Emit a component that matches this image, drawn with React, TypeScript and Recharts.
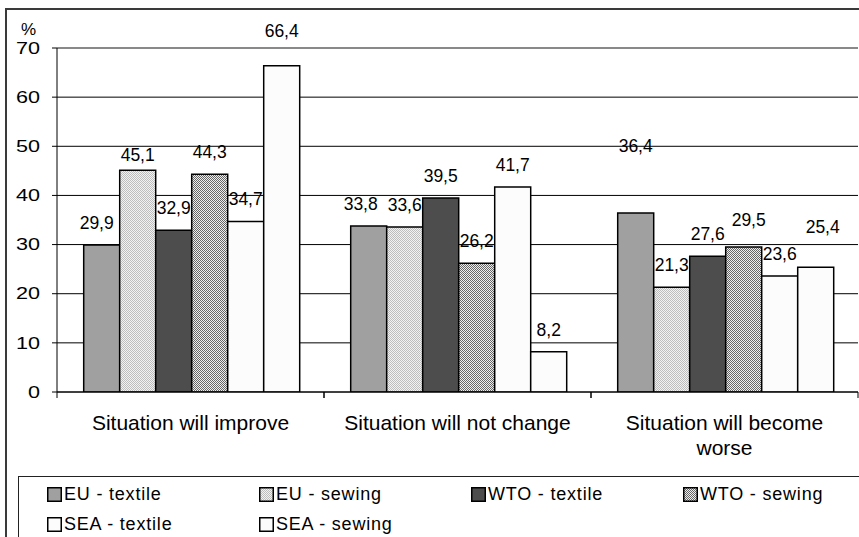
import { BarChart, Bar, XAxis, YAxis, CartesianGrid, ReferenceLine, LabelList, Legend } from 'recharts';

const categories = ['Situation will improve', 'Situation will not change', 'Situation will become worse'];

const euTextile = [29.9, 33.8, 36.4];
const euSewing = [45.1, 33.6, 21.3];
const wtoTextile = [32.9, 39.5, 27.6];
const wtoSewing = [44.3, 26.2, 29.5];
const seaTextile = [34.7, 41.7, 23.6];
const seaSewing = [66.4, 8.2, 25.4];

const yTicks = [0, 10, 20, 30, 40, 50, 60, 70];

const series = [
    { key: 'euTextile', name: 'EU - textile', values: euTextile },
    { key: 'euSewing', name: 'EU - sewing', values: euSewing },
    { key: 'wtoTextile', name: 'WTO - textile', values: wtoTextile },
    { key: 'wtoSewing', name: 'WTO - sewing', values: wtoSewing },
    { key: 'seaTextile', name: 'SEA - textile', values: seaTextile },
    { key: 'seaSewing', name: 'SEA - sewing', values: seaSewing },
];

const fills: Record<string, string> = {
    euTextile: '#a0a0a0',
    euSewing: 'url(#pat-eu-sewing)',
    wtoTextile: '#4d4d4d',
    wtoSewing: 'url(#pat-wto-sewing)',
    seaTextile: '#fcfcfc',
    seaSewing: '#fcfcfc',
};

// labels that were dragged around in the original
const labelNudge: Record<string, { dx?: number; lift?: number }> = {
    'euTextile-0': { dx: -5 },
    'euTextile-1': { dx: -8 },
    'euTextile-2': { lift: 45 },
    'euSewing-0': { lift: -7 },
    'seaSewing-0': { lift: 13 },
    'wtoSewing-2': { dx: 5, lift: 5 },
    'seaSewing-2': { dx: 7, lift: 18 },
};

const data = categories.map((name, i) => {
    const row: Record<string, string | number> = { name };
    series.forEach(s => { row[s.key] = s.values[i]; });
    return row;
});

const FONT = '"Liberation Sans", Arial, sans-serif';
const fmt = (v: number) => v.toFixed(1).replace('.', ',');

const X_TICK_SIZE = 6;
const X_TICK_MARGIN = 17;

// excel wrapped the long category name; do the same by character count
const wrap = (s: string, max: number) => {
    const lines: string[] = [];
    let cur = '';
    s.split(' ').forEach(w => {
        const next = cur ? cur + ' ' + w : w;
        if (next.length > max && cur) {
            lines.push(cur);
            cur = w;
        } else {
            cur = next;
        }
    });
    if (cur) lines.push(cur);
    return lines;
};

const makeLabel = (key: string) => (props: any) => {
    const { x, y, width, value, index } = props;
    const n = labelNudge[`${key}-${index}`] || {};
    return (
        <text
            x={Number(x) + Number(width) / 2 + (n.dx || 0)}
            y={Number(y) - 16 - (n.lift || 0)}
            textAnchor="middle"
            fontSize={17.5}
            fontFamily={FONT}
            fill="#000"
        >
            {fmt(Number(value))}
        </text>
    );
};

const YTick = (props: any) => {
    const { x, y, payload } = props;
    return (
        <text
            transform={`translate(${x},${y}) scale(1.35,1)`}
            textAnchor="end"
            dy="0.36em"
            fontSize={16}
            fontFamily={FONT}
            fill="#000"
        >
            {payload.value}
        </text>
    );
};

const CatTick = (props: any) => {
    const { x, y, payload } = props;
    const half = Number(payload.offset) || 0;
    const axisY = y - X_TICK_SIZE - X_TICK_MARGIN;
    const lines = wrap(String(payload.value), 25);
    return (
        <g>
            {half > 0 && (
                <>
                    <line x1={x - half} x2={x - half} y1={axisY} y2={axisY + X_TICK_SIZE} stroke="#000" />
                    <line x1={x + half} x2={x + half} y1={axisY} y2={axisY + X_TICK_SIZE} stroke="#000" />
                </>
            )}
            <text x={x} y={y} textAnchor="middle" fontSize={21} fontFamily={FONT} fill="#000">
                {lines.map((l, i) => (
                    <tspan key={i} x={x} dy={i === 0 ? '0.71em' : 25}>{l}</tspan>
                ))}
            </text>
        </g>
    );
};

const renderLegend = () => (
    <div
        style={{
            boxSizing: 'border-box',
            width: 900,
            height: 100,
            border: '1px solid #222',
            paddingLeft: 28,
            paddingTop: 2,
            display: 'grid',
            gridTemplateColumns: 'repeat(4, 212px)',
            gridAutoRows: '30px',
            fontFamily: FONT,
        }}
    >
        {series.map(s => (
            <div key={s.key} style={{ display: 'flex', alignItems: 'center' }}>
                <svg width={15} height={15} style={{ display: 'block' }}>
                    <rect x={0.75} y={0.75} width={13.5} height={13.5} fill={fills[s.key]} stroke="#000" strokeWidth={1.5} />
                </svg>
                <span style={{ marginLeft: 2, fontSize: 18, letterSpacing: 0.8, color: '#000' }}>{s.name}</span>
            </div>
        ))}
    </div>
);

export default function App() {
    return (
        <div style={{ position: 'fixed', left: 0, top: 0, width: 859, height: 537, overflow: 'hidden', background: '#fff' }}>
            <div style={{ position: 'absolute', left: 5, top: 8, width: 900, height: 600, borderTop: '2px solid #3a3a3a', borderLeft: '2px solid #3a3a3a' }} />
            <div style={{ position: 'absolute', left: 0, top: 0 }}>
                <BarChart
                    width={859}
                    height={537}
                    data={data}
                    margin={{ top: 48, right: 1, left: 0, bottom: 85 }}
                    barCategoryGap="10%"
                    barGap={0}
                >
                    <defs>
                        <pattern id="pat-eu-sewing" patternUnits="userSpaceOnUse" width={2} height={2}>
                            <rect width={2} height={2} fill="#f2f2f2" />
                            <rect width={1} height={1} fill="#bdbdbd" />
                            <rect x={1} y={1} width={1} height={1} fill="#bdbdbd" />
                        </pattern>
                        <pattern id="pat-wto-sewing" patternUnits="userSpaceOnUse" width={2} height={2}>
                            <rect width={2} height={2} fill="#eeeeee" />
                            <rect width={1} height={1} fill="#666666" />
                            <rect x={1} y={1} width={1} height={1} fill="#666666" />
                        </pattern>
                    </defs>
                    <CartesianGrid vertical={false} stroke="#000" strokeWidth={1} />
                    <XAxis
                        dataKey="name"
                        height={60}
                        tickLine={false}
                        tickSize={X_TICK_SIZE}
                        tickMargin={X_TICK_MARGIN}
                        axisLine={{ stroke: '#000' }}
                        interval={0}
                        tick={CatTick}
                    />
                    <YAxis
                        width={57}
                        domain={[0, 70]}
                        ticks={yTicks}
                        allowDataOverflow
                        tickSize={5}
                        tickMargin={12}
                        axisLine={{ stroke: '#000' }}
                        tickLine={{ stroke: '#000' }}
                        tick={YTick}
                        label={{ value: '%', position: 'top', offset: 13, fontSize: 17, fill: '#000', fontFamily: FONT }}
                    />
                    <YAxis
                        yAxisId="r"
                        orientation="right"
                        width={0}
                        domain={[0, 70]}
                        tick={false}
                        tickLine={false}
                        axisLine={{ stroke: '#8c8c8c', strokeWidth: 1.5 }}
                    />
                    <ReferenceLine y={70} stroke="#8c8c8c" strokeWidth={1.5} />
                    <Legend
                        layout="horizontal"
                        verticalAlign="middle"
                        align="center"
                        wrapperStyle={{ position: 'absolute', left: 18, top: 476, width: 900, height: 100 }}
                        content={renderLegend}
                    />
                    {series.map(s => (
                        <Bar
                            key={s.key}
                            dataKey={s.key}
                            name={s.name}
                            fill={fills[s.key]}
                            stroke="#000"
                            strokeWidth={1.5}
                            isAnimationActive={false}
                        >
                            <LabelList dataKey={s.key} content={makeLabel(s.key)} />
                        </Bar>
                    ))}
                </BarChart>
            </div>
        </div>
    );
}
